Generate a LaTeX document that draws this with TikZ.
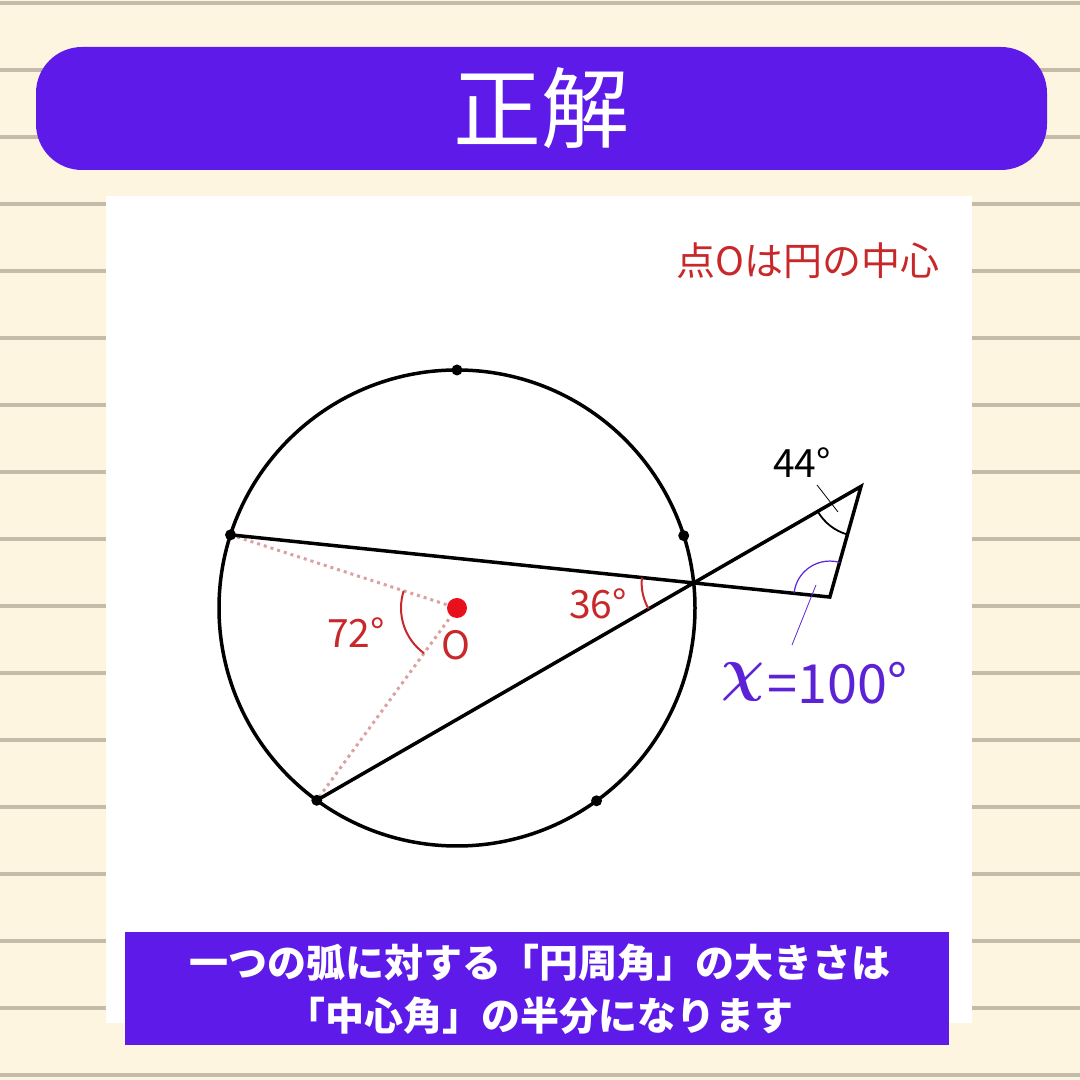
\documentclass[tikz,border=0pt]{standalone}
\usepackage{fontspec}
\usepackage{bm}
\setmainfont{Noto Sans CJK JP}
\usetikzlibrary{calc, angles}
\definecolor{cream}{HTML}{FDF5E0}
\definecolor{rulegray}{HTML}{C4BCA8}
\definecolor{banner}{HTML}{5E1AE8}
\definecolor{markred}{HTML}{C8282A}
\definecolor{dotred}{HTML}{E8101A}
\definecolor{dotpink}{HTML}{DCA0A0}
\definecolor{xpurple}{HTML}{5B22D6}

\begin{document}
\begin{tikzpicture}[x=1pt, y=1pt, line width=3.5pt,
  pt/.style={circle, fill=black, inner sep=0pt, minimum size=11pt},
  radius line/.style={dotpink, line width=3pt, dash pattern=on 3pt off 4pt},
  mark arc/.style={draw=markred, line width=2pt},
  lab/.style={font=\fontsize{39}{39}\selectfont}]
\useasboundingbox (0,0) rectangle (1080,1080);

% paper
\fill[cream] (0,0) rectangle (1080,1080);
\foreach \k in {0,...,16}
  \fill[rulegray] (0,{1075-67*\k}) rectangle (1080,{1079-67*\k});

% heading
\fill[banner, rounded corners=46pt] (36,910) rectangle (1047,1033);
\node[text=white, font=\fontsize{88}{88}\selectfont] (title) at (541,972) {正解};
\fill[white] (106,57) rectangle (972,884);

% circle and points
\coordinate (o) at (457,472);
\draw (o) circle (238);
\coordinate (top) at ($(o)+(90:238)$);
\coordinate (a) at ($(o)+(162.1:238)$);
\coordinate (r) at ($(o)+(17.7:238)$);
\coordinate (b) at ($(o)+(233.9:238)$);
\coordinate (br) at ($(o)+(305.9:238)$);
\coordinate (p) at ($(o)+(6.05:238)$);
\coordinate (t1) at ($(b)!1.444!(p)$);
\coordinate (t2) at ($(a)!1.294!(p)$);

\draw[radius line] (a) -- (o) -- (b);
\draw (a) -- (t2) -- (t1) -- (b);

% angles
\pic[mark arc, angle radius=56pt] {angle = a--o--b};
\pic[mark arc, angle radius=52pt] {angle = a--p--b};
\pic[draw=black, line width=1.8pt, angle radius=50pt] {angle = p--t1--t2};
\pic[draw=xpurple, line width=1.2pt, angle radius=36pt] {angle = t1--t2--p};

\foreach \q in {top, a, r, b, br}
  \node[pt] at (\q) {};
\node[circle, fill=dotred, inner sep=0pt, minimum size=20pt] (centre) at (o) {};

% labels
\node[lab, text=markred] (l72) at (356,447) {72°};
\node[lab, text=markred] (lo) at (456,435) {O};
\node[lab, text=markred] (l36) at (598,476) {36°};
\node[lab] (l44) at (802,617) {44°};
\coordinate (k1) at (817,595);
\coordinate (k2) at (838,568);
\draw[line width=0.8pt] (k1) -- (k2);
\coordinate (k3) at (816,495);
\coordinate (k4) at (792,435);
\draw[xpurple, line width=0.8pt] (k3) -- (k4);
\node[text=xpurple] (chi) at (743,398) {\scalebox{6}{$\bm{\chi}$}};
\node[text=xpurple, font=\fontsize{54}{54}\selectfont, anchor=west, inner sep=0pt] (val) at (766,397) {=100°};

\node[text=markred, font=\fontsize{39}{39}\selectfont] (note) at (808,819) {点Oは円の中心};

% summary box
\fill[banner] (125,35) rectangle (949,148);
\node[text=white, align=center, font=\fontsize{39}{53}\selectfont\bfseries] (summary) at (540,91)
  {一つの弧に対する「円周角」の大きさは\\「中心角」の半分になります};
\end{tikzpicture}
\end{document}
